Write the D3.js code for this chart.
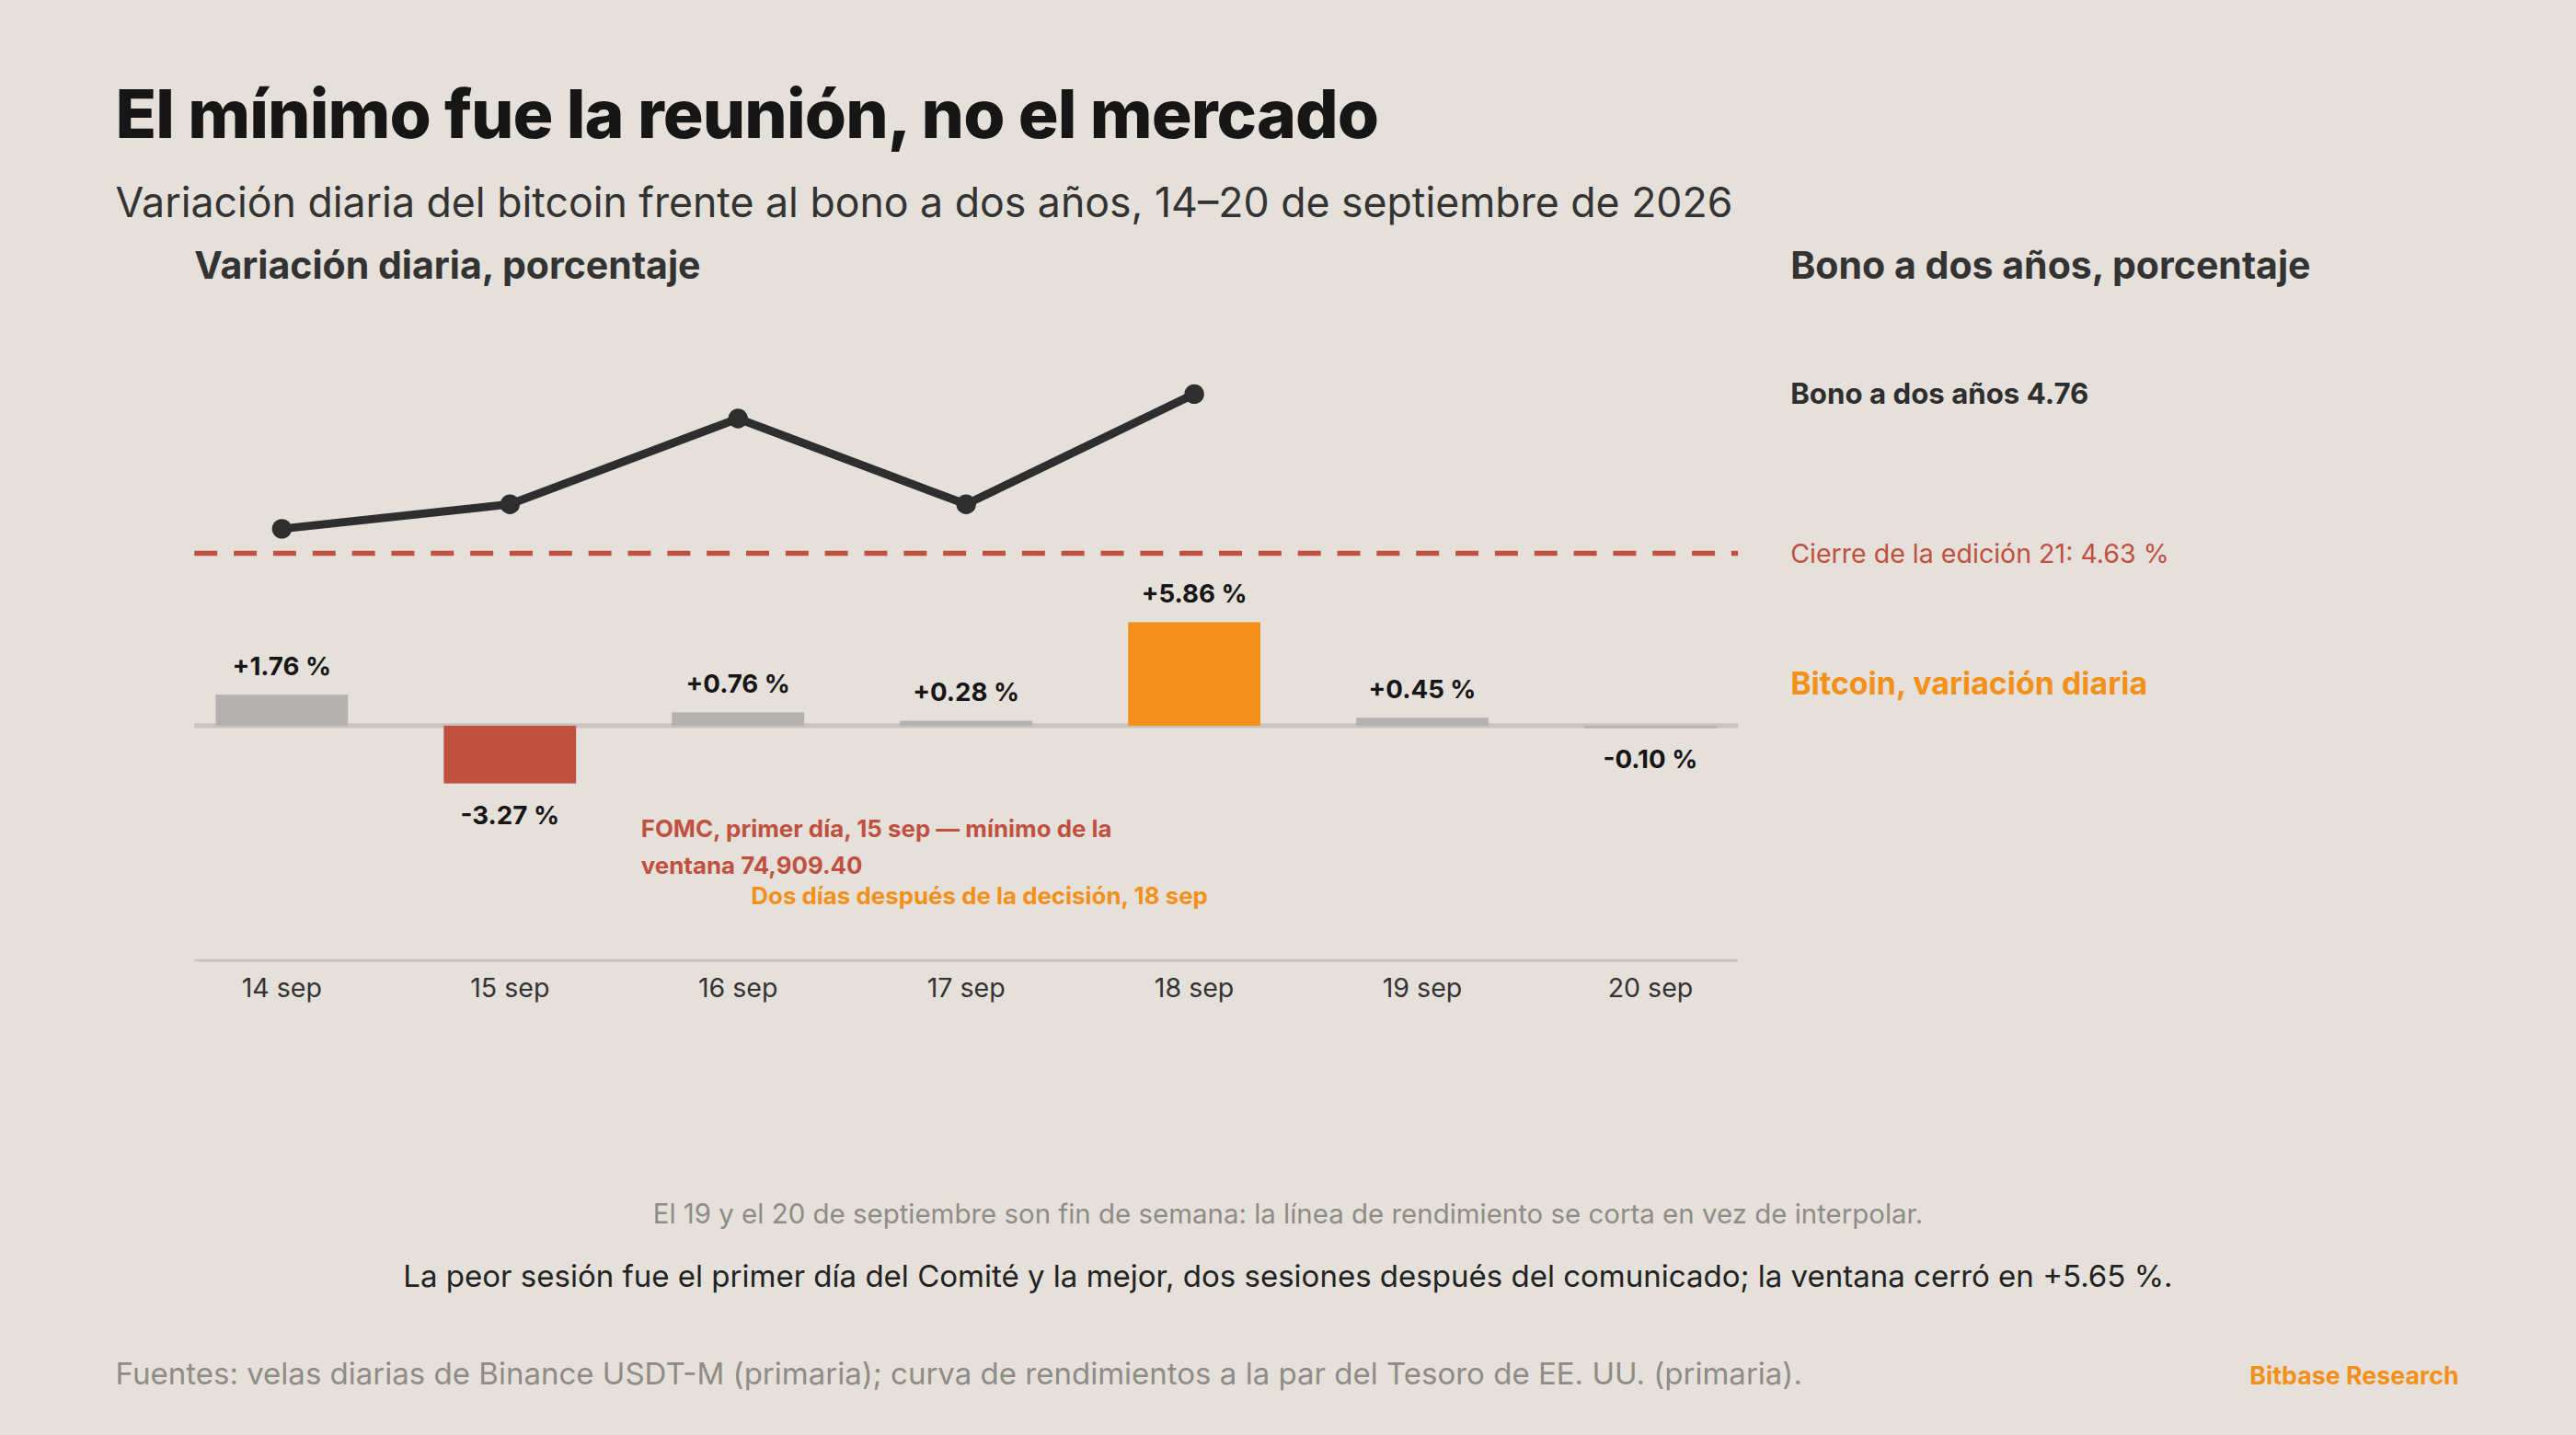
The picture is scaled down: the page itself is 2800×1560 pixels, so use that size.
<!DOCTYPE html>
<html>
<head>
<meta charset="utf-8">
<script src="https://cdn.jsdelivr.net/npm/d3@7"></script>
<style>
  body { margin: 0; background: #e5e0da; }
  text { font-family: Inter, "Noto Sans", sans-serif; }
</style>
</head>
<body>
<div class="canvas"></div>
<script>
const days = ['14 sep', '15 sep', '16 sep', '17 sep', '18 sep', '19 sep', '20 sep'];
const btcChange = [1.76, -3.27, 0.76, 0.28, 5.86, 0.45, -0.10];
const yieldDays = ['14 sep', '15 sep', '16 sep', '17 sep', '18 sep'];
const yieldValues = [4.65, 4.67, 4.74, 4.67, 4.76];
const closeRef = 4.63;

const W = 1568, H = 874;
const svg = d3.select('.canvas').append('svg')
  .attr('width', 2800)
  .attr('height', 1560)
  .attr('viewBox', `0 0 ${W} ${H}`);

svg.append('rect').attr('width', W).attr('height', H).attr('fill', '#e5e0da');

const ink = '#2e2e2e', red = '#c0503f', orange = '#f39019', grey = '#8f8b86';

// titles
svg.append('text').attr('x', 70).attr('y', 84)
  .attr('font-size', 41).attr('font-weight', 800).attr('fill', '#161616')
  .attr('letter-spacing', -0.5)
  .text('El mínimo fue la reunión, no el mercado');
svg.append('text').attr('x', 70).attr('y', 132)
  .attr('font-size', 25).attr('fill', '#333')
  .text('Variación diaria del bitcoin frente al bono a dos años, 14–20 de septiembre de 2026');
svg.append('text').attr('x', 118).attr('y', 170)
  .attr('font-size', 23).attr('font-weight', 700).attr('fill', '#333')
  .text('Variación diaria, porcentaje');
svg.append('text').attr('x', 1090).attr('y', 170)
  .attr('font-size', 23).attr('font-weight', 700).attr('fill', '#333')
  .text('Bono a dos años, porcentaje');

// scales
const x = d3.scaleBand().domain(days).range([131, 1045]).paddingInner(0.42);
const cx = d => x(d) + x.bandwidth() / 2;
const y = d3.scaleLinear().domain([0, 5.86]).range([442, 379]);
const yy = d3.scaleLinear().domain([closeRef, 4.76]).range([337, 240]);

// zero line and bottom axis
svg.append('line').attr('x1', 118).attr('x2', 1058)
  .attr('y1', y(0)).attr('y2', y(0))
  .attr('stroke', '#c9c3bc').attr('stroke-width', 3);

const xAxis = svg.append('g').attr('transform', 'translate(0,585)')
  .call(d3.axisBottom(x).tickSize(0).tickPadding(11));
xAxis.select('.domain').remove();
xAxis.append('line').attr('x1', 118).attr('x2', 1058)
  .attr('stroke', '#c9c3bc').attr('stroke-width', 1.5);
xAxis.selectAll('.tick text')
  .attr('font-size', 16).attr('fill', '#333')
  .attr('font-family', 'Inter, sans-serif');

// bars
const barColor = (d, i) => i === 1 ? red : i === 4 ? orange : '#b3b2b0';
svg.selectAll('.bar').data(btcChange).enter().append('rect')
  .attr('class', 'bar')
  .attr('x', (d, i) => x(days[i]))
  .attr('width', x.bandwidth())
  .attr('y', d => Math.min(y(d), y(0)))
  .attr('height', d => Math.max(Math.abs(y(d) - y(0)), 1.5))
  .attr('fill', barColor);

const fmt = d => (d >= 0 ? '+' : '−').replace('−', '-') + Math.abs(d).toFixed(2) + ' %';
svg.selectAll('.blab').data(btcChange).enter().append('text')
  .attr('class', 'blab')
  .attr('x', (d, i) => cx(days[i]))
  .attr('y', d => d >= 0 ? y(d) - 12 : y(d) + 25)
  .attr('text-anchor', 'middle')
  .attr('font-size', 15.5).attr('font-weight', 700).attr('fill', '#161616')
  .text(fmt);

// reference dashed line
svg.append('line').attr('x1', 118).attr('x2', 1058)
  .attr('y1', yy(closeRef)).attr('y2', yy(closeRef))
  .attr('stroke', red).attr('stroke-width', 3)
  .attr('stroke-dasharray', '14 10');

// yield line
const line = d3.line().x((d, i) => cx(yieldDays[i])).y(d => yy(d));
svg.append('path').datum(yieldValues)
  .attr('d', line).attr('fill', 'none')
  .attr('stroke', ink).attr('stroke-width', 5);
svg.selectAll('.dot').data(yieldValues).enter().append('circle')
  .attr('cx', (d, i) => cx(yieldDays[i])).attr('cy', d => yy(d))
  .attr('r', 6).attr('fill', ink);

// right-hand labels
svg.append('text').attr('x', 1090).attr('y', yy(4.76) + 6)
  .attr('font-size', 17.5).attr('font-weight', 700).attr('fill', ink)
  .text('Bono a dos años 4.76');
svg.append('text').attr('x', 1090).attr('y', yy(closeRef) + 6)
  .attr('font-size', 16).attr('fill', red)
  .text('Cierre de la edición 21: 4.63 %');
svg.append('text').attr('x', 1090).attr('y', 423)
  .attr('font-size', 19).attr('font-weight', 700).attr('fill', orange)
  .text('Bitcoin, variación diaria');

// annotations
svg.append('text').attr('x', 390).attr('y', 510)
  .attr('font-size', 14.5).attr('font-weight', 700).attr('fill', red)
  .text('FOMC, primer día, 15 sep — mínimo de la');
svg.append('text').attr('x', 390).attr('y', 532)
  .attr('font-size', 14.5).attr('font-weight', 700).attr('fill', red)
  .text('ventana 74,909.40');
svg.append('text').attr('x', 457).attr('y', 551)
  .attr('font-size', 14.5).attr('font-weight', 700).attr('fill', orange)
  .text('Dos días después de la decisión, 18 sep');

// footer
svg.append('text').attr('x', 784).attr('y', 745).attr('text-anchor', 'middle')
  .attr('font-size', 16.5).attr('fill', grey)
  .text('El 19 y el 20 de septiembre son fin de semana: la línea de rendimiento se corta en vez de interpolar.');
svg.append('text').attr('x', 784).attr('y', 784).attr('text-anchor', 'middle')
  .attr('font-size', 18.5).attr('fill', '#222')
  .text('La peor sesión fue el primer día del Comité y la mejor, dos sesiones después del comunicado; la ventana cerró en +5.65 %.');
svg.append('text').attr('x', 70).attr('y', 843)
  .attr('font-size', 18.5).attr('fill', grey)
  .text('Fuentes: velas diarias de Binance USDT-M (primaria); curva de rendimientos a la par del Tesoro de EE. UU. (primaria).');
svg.append('text').attr('x', 1497).attr('y', 843).attr('text-anchor', 'end')
  .attr('font-size', 15).attr('font-weight', 700).attr('fill', orange)
  .text('Bitbase Research');
</script>
</body>
</html>
